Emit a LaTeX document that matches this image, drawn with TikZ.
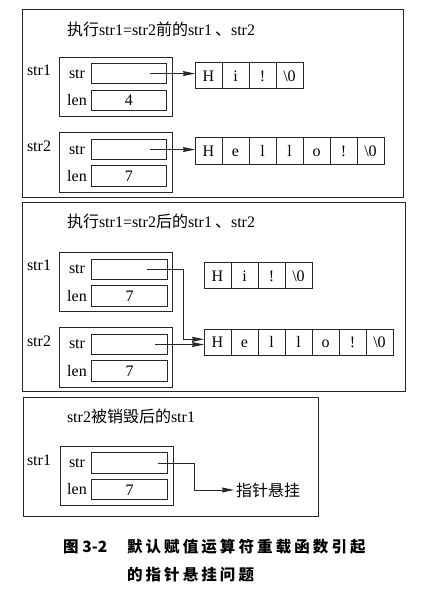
\documentclass[tikz,border=0pt]{standalone}
\usepackage{fontspec}
\setmainfont{Liberation Serif}
\newfontfamily\zh{Noto Sans CJK SC}
\newfontfamily\zhcap[LetterSpace=20]{Noto Sans CJK SC}
\usetikzlibrary{arrows.meta}
\definecolor{inkline}{RGB}{40,40,40}

\begin{document}
\begin{tikzpicture}[x=1pt,y=-1pt,
  font=\fontsize{16}{19}\selectfont,
  every node/.style={inner sep=0pt,outer sep=0pt},
  frame/.style={draw=inkline,line width=1pt,anchor=north west},
  obj/.style={draw=inkline,line width=0.9pt,anchor=north west,
    minimum width=113.5pt,minimum height=59.5pt},
  fld/.style={draw=inkline,line width=0.9pt,anchor=north west,
    minimum width=75.7pt,minimum height=20.5pt,
    text height=11pt,text depth=0pt},
  cel/.style={draw=inkline,line width=0.9pt,minimum width=27pt,
    minimum height=26.6pt,text height=11pt,text depth=0pt},
  ptr/.style={draw=inkline,line width=0.9pt,
    -{Stealth[length=12pt,width=5pt,inset=1pt]}},
  captxt/.style={font=\fontsize{15.5}{18}\selectfont\zhcap\bfseries,
    anchor=west},
]
\useasboundingbox (0,0) rectangle (422,596);

% before str1=str2
\node[frame,minimum width=381pt,minimum height=188pt](F1)at(22.7,9.3){};
\node[anchor=west](T1)at(67,29){{\zh 执行}str1=str2{\zh 前的}str1\hspace{3pt}{\zh 、}str2};

\node(N1)at(39,70){str1};
\node[obj](O1)at(59.3,57.3){};
\node(L1a)at(77,74){str};
\node[fld](P1)at(91,63.3){};
\node(L1b)at(77,100){len};
\node[fld](E1)at(91,90){4};

\node[cel,anchor=north west](A1)at(195,62.3){H};
\node[cel,anchor=west](A2)at(A1.east){i};
\node[cel,anchor=west](A3)at(A2.east){!};
\node[cel,anchor=west](A4)at(A3.east){\textbackslash0};

\node(N2)at(39,146){str2};
\node[obj](O2)at(59.3,132.7){};
\node(L2a)at(77,150){str};
\node[fld](P2)at(91,139.3){};
\node(L2b)at(77,176){len};
\node[fld](E2)at(91,165.7){7};

\node[cel,anchor=north west](B1)at(195,137.7){H};
\node[cel,anchor=west](B2)at(B1.east){e};
\node[cel,anchor=west](B3)at(B2.east){l};
\node[cel,anchor=west](B4)at(B3.east){l};
\node[cel,anchor=west](B5)at(B4.east){o};
\node[cel,anchor=west](B6)at(B5.east){!};
\node[cel,anchor=west](B7)at(B6.east){\textbackslash0};

\draw[ptr]([xshift=21pt]P1.center)--(P1.center -| A1.west);
\draw[ptr]([xshift=21pt]P2.center)--(P2.center -| B1.west);

% after str1=str2
\node[frame,minimum width=383pt,minimum height=189.4pt](F2)at(22.7,202.3){};
\node[anchor=west](T2)at(67,221.7){{\zh 执行}str1=str2{\zh 后的}str1\hspace{3pt}{\zh 、}str2};

\node(N3)at(39,265){str1};
\node[obj](O3)at(59.3,252.3){};
\node(L3a)at(77,269){str};
\node[fld](P3)at(91.7,259){};
\node(L3b)at(77,296){len};
\node[fld](E3)at(91.7,285.7){7};

\node[cel,anchor=north west](C1)at(204,262.3){H};
\node[cel,anchor=west](C2)at(C1.east){i};
\node[cel,anchor=west](C3)at(C2.east){!};
\node[cel,anchor=west](C4)at(C3.east){\textbackslash0};

\node(N4)at(39,341){str2};
\node[obj](O4)at(59.3,327.7){};
\node(L4a)at(77,344.5){str};
\node[fld](P4)at(91.7,334.3){};
\node(L4b)at(77,371){len};
\node[fld](E4)at(91.7,360.7){7};

\node[cel,anchor=north west](D1)at(204,329){H};
\node[cel,anchor=west](D2)at(D1.east){e};
\node[cel,anchor=west](D3)at(D2.east){l};
\node[cel,anchor=west](D4)at(D3.east){l};
\node[cel,anchor=west](D5)at(D4.east){o};
\node[cel,anchor=west](D6)at(D5.east){!};
\node[cel,anchor=west](D7)at(D6.east){\textbackslash0};

\draw[ptr]([xshift=17pt]P3.center)-|([xshift=-21pt,yshift=3pt]D1.west)
  --([yshift=3pt]D1.west);
\draw[ptr]([xshift=25pt]P4.center)--(P4.center -| D1.west);

% str2 destroyed
\node[frame,minimum width=295pt,minimum height=118.7pt](F3)at(23.3,397.3){};
\node[anchor=west](T3)at(67,416.7){str2{\zh 被销毁后的}str1};

\node(N5)at(39,460){str1};
\node[obj](O5)at(60,446){};
\node(L5a)at(77,463){str};
\node[fld](P5)at(91.7,452.7){};
\node(L5b)at(77,489){len};
\node[fld](E5)at(91.7,479.3){7};

\node[anchor=west,inner sep=2pt](G)at(234,490){\zh 指针悬挂};
\draw[ptr]([xshift=28pt]P5.center)-|([xshift=-40pt]G.west)--(G.west);

% caption
\node[captxt](K0)at(63,546.7){图\hspace{4pt}{\zh\bfseries 3-2}};
\node[captxt](K1)at(127,546.7){默认赋值运算符重载函数引起};
\node[captxt](K2)at([yshift=-28pt]K1.west){的指针悬挂问题};
\end{tikzpicture}
\end{document}
